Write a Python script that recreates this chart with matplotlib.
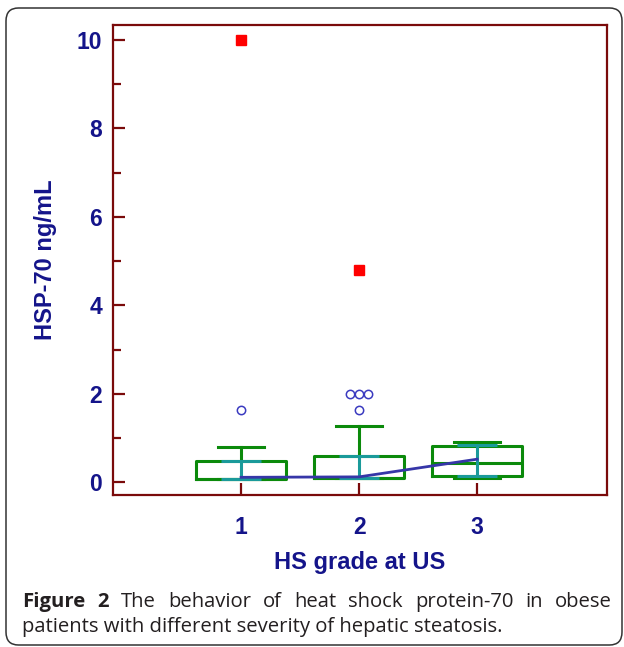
import matplotlib
matplotlib.use("Agg")
import matplotlib.pyplot as plt
from matplotlib.patches import FancyBboxPatch

# data
grades = [1, 2, 3]
q1 = [0.07, 0.09, 0.135]
med = [0.07, 0.09, 0.43]
q3 = [0.475, 0.59, 0.81]
whis_lo = [0.07, 0.09, 0.10]
whis_hi = [0.80, 1.27, 0.905]
ci_lo = [0.07, 0.09, 0.135]
ci_hi = [0.475, 0.59, 0.84]
trend = [0.11, 0.12, 0.52]
outliers = [[1.63], [1.63, 2.0, 2.0, 2.0], []]
far_out = [[10.0], [4.8], []]

navy = "#14148a"
green = "#0b8a0b"
teal = "#1a9a9a"
darkred = "#7a0a0a"

fig = plt.figure(figsize=(6.24, 6.47), dpi=100)

# rounded outer frame
frame = FancyBboxPatch((6/624, 2/647), 616/624, 637/647,
                       boxstyle="round,pad=0,rounding_size=0.02",
                       transform=fig.transFigure, fill=False,
                       ec="#333333", lw=1.1)
fig.patches.append(frame)

ax = fig.add_axes([113/624, 1-495/647, 494/624, 470/647])

stats = []
for i in range(3):
    stats.append(dict(q1=q1[i], med=med[i], q3=q3[i],
                      whislo=whis_lo[i], whishi=whis_hi[i], fliers=[]))

ax.bxp(stats, positions=grades, widths=0.76, capwidths=0.39,
       boxprops=dict(color=green, lw=2.2),
       whiskerprops=dict(color=green, lw=2.2),
       capprops=dict(color=green, lw=2.2),
       medianprops=dict(color=green, lw=2.2),
       manage_ticks=False, zorder=3)

# teal confidence marks
for x, lo, hi, top in zip(grades, ci_lo, ci_hi, q3):
    ax.plot([x, x], [lo, max(hi, top)], color=teal, lw=2.2, zorder=4,
            solid_capstyle="butt")
    ax.plot([x-0.17, x+0.17], [lo, lo], color=teal, lw=2.2, zorder=4,
            solid_capstyle="butt")
    ax.plot([x-0.17, x+0.17], [hi, hi], color=teal, lw=2.2, zorder=4,
            solid_capstyle="butt")

ax.plot(grades, trend, color="#3636a8", lw=2, zorder=5)

# outliers, spread when values repeat
for x, vals in zip(grades, outliers):
    for v in set(vals):
        n = vals.count(v)
        xs = [x + (k - (n-1)/2)*0.075 for k in range(n)]
        ax.plot(xs, [v]*n, "o", ms=6, mfc="none", mec="#3a3ac0",
                mew=1.1, zorder=6)
for x, vals in zip(grades, far_out):
    ax.plot([x]*len(vals), vals, "s", ms=6.5, color="#ff0000", zorder=6)

ax.set_xlim(-0.085, 4.1)
ax.set_ylim(-0.29, 10.34)
ax.set_xticks(grades)
ax.set_yticks([0, 2, 4, 6, 8, 10])
ax.set_yticks([1, 3, 5, 7, 9], minor=True)

for s in ax.spines.values():
    s.set_color(darkred)
    s.set_linewidth(1.6)

ax.tick_params(axis="y", which="major", direction="in", length=8.5,
               width=1.6, color=darkred, pad=8, labelsize=16.5,
               labelcolor=navy)
ax.tick_params(axis="y", which="minor", direction="in", length=6,
               width=1.6, color=darkred)
ax.tick_params(axis="x", direction="in", length=8.5, width=1.6,
               color=darkred, pad=15, labelsize=16.5, labelcolor=navy)
for lab in ax.get_xticklabels() + ax.get_yticklabels():
    lab.set_fontweight("bold")
    lab.set_fontfamily("Liberation Sans")

ax.set_ylabel("HSP-70 ng/mL", fontsize=17, fontweight="bold", color=navy,
              family="Liberation Sans", labelpad=14)
ax.set_xlabel("HS grade at US", fontsize=17, fontweight="bold", color=navy,
              family="Liberation Sans", labelpad=9)

# caption, first line justified between the frame margins
cap_color = "#231f20"
cap_size = 14.6
left, right = 22, 612
line1 = [("Figure", "bold"), ("2", "bold")] + \
    [(w, "normal") for w in "The behavior of heat shock protein-70 in obese".split()]
renderer = fig.canvas.get_renderer()
texts = []
for word, weight in line1:
    t = fig.text(0, 1-607/647, word, fontsize=cap_size, fontweight=weight,
                 family="Open Sans", color=cap_color, va="baseline")
    texts.append(t)
widths = [t.get_window_extent(renderer).width for t in texts]
gap = (right - left - sum(widths)) / (len(texts) - 1)
x = left
for t, w in zip(texts, widths):
    t.set_x(x/624)
    x += w + gap
fig.text(left/624, 1-632/647,
         "patients with different severity of hepatic steatosis.",
         fontsize=cap_size, family="Open Sans", color=cap_color,
         va="baseline")

fig.savefig("out.png", dpi=100)
